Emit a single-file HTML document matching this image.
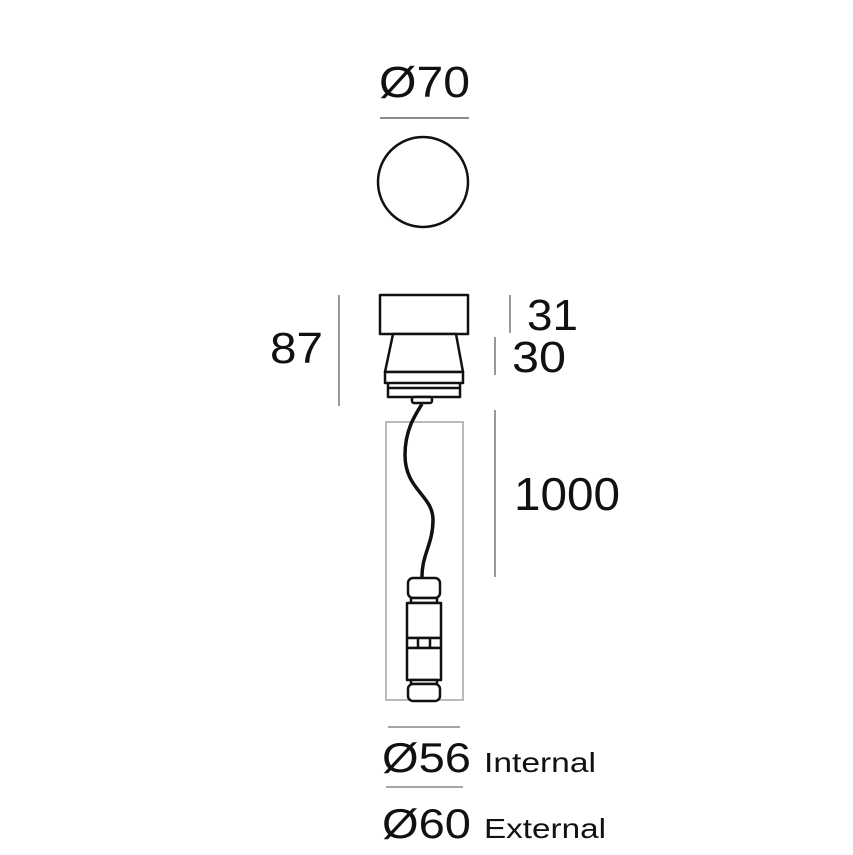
<!DOCTYPE html>
<html><head><style>
html,body{margin:0;padding:0;background:#fff;}
svg{display:block;}
text{font-family:"Liberation Sans",sans-serif;fill:#111;}
</style></head><body>
<svg width="853" height="855" viewBox="0 0 853 855" xmlns="http://www.w3.org/2000/svg">
<text x="379" y="97" font-size="44" textLength="91" lengthAdjust="spacingAndGlyphs">Ø70</text>
<line x1="380" y1="118" x2="469" y2="118" stroke="#666" stroke-width="1.5"/>
<circle cx="423" cy="182" r="45" fill="none" stroke="#111" stroke-width="2.5"/>

<text x="270" y="363" font-size="44" textLength="53" lengthAdjust="spacingAndGlyphs">87</text>
<line x1="339" y1="295" x2="339" y2="406" stroke="#777" stroke-width="1.5"/>
<line x1="510" y1="295" x2="510" y2="333" stroke="#777" stroke-width="1.5"/>
<line x1="495" y1="337" x2="495" y2="375" stroke="#777" stroke-width="1.5"/>
<text x="527" y="330" font-size="44" textLength="51" lengthAdjust="spacingAndGlyphs">31</text>
<text x="512" y="372" font-size="44" textLength="54" lengthAdjust="spacingAndGlyphs">30</text>

<g fill="#fff" stroke="#111" stroke-width="2.5" stroke-linejoin="round">
<rect x="380" y="295" width="88" height="39"/>
<polygon points="393,334 456,334 463,372 385,372"/>
<rect x="385" y="372" width="78" height="11"/>
<rect x="388" y="388" width="72" height="9"/>
<line x1="388" y1="383" x2="388" y2="388"/><line x1="460" y1="383" x2="460" y2="388"/>
<rect x="412" y="397" width="20" height="6" rx="2"/>
</g>

<rect x="386" y="422" width="77" height="278" fill="none" stroke="#bbb" stroke-width="2"/>
<line x1="495" y1="410" x2="495" y2="577" stroke="#777" stroke-width="1.5"/>
<text x="514" y="510" font-size="46" textLength="106" lengthAdjust="spacingAndGlyphs">1000</text>

<path d="M422 404 C415 415 405 430 405 455 C405 490 433 495 433 520 C433 545 421 555 422 580" fill="none" stroke="#111" stroke-width="3.5"/>

<g fill="#fff" stroke="#111" stroke-width="2.5" stroke-linejoin="round">
<rect x="408" y="578" width="32" height="20" rx="5"/>
<rect x="411" y="598" width="26" height="5"/>
<rect x="407" y="603" width="34" height="35"/>
<rect x="407" y="638" width="34" height="10"/>
<line x1="418" y1="638" x2="418" y2="648"/><line x1="430" y1="638" x2="430" y2="648"/>
<rect x="407" y="648" width="34" height="32"/>
<rect x="411" y="680" width="26" height="4"/>
<rect x="408" y="684" width="32" height="17" rx="5"/>
</g>

<line x1="388" y1="727" x2="460" y2="727" stroke="#888" stroke-width="1.5"/>
<text x="382" y="772" font-size="42" textLength="89" lengthAdjust="spacingAndGlyphs">Ø56</text>
<text x="484" y="772" font-size="28" textLength="112" lengthAdjust="spacingAndGlyphs">Internal</text>
<line x1="386" y1="787" x2="463" y2="787" stroke="#888" stroke-width="1.5"/>
<text x="382" y="838" font-size="42" textLength="89" lengthAdjust="spacingAndGlyphs">Ø60</text>
<text x="484" y="838" font-size="28" textLength="122" lengthAdjust="spacingAndGlyphs">External</text>
</svg>
</body></html>
